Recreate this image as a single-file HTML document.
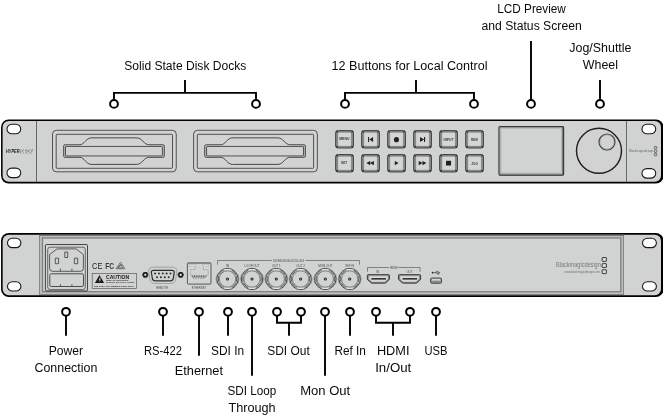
<!DOCTYPE html>
<html lang="en">
<head>
<meta charset="utf-8">
<title>HyperDeck Studio front and rear panel</title>
<style>
html,body{margin:0;padding:0;background:#fff;}
body{width:663px;height:416px;overflow:hidden;}
svg{display:block;font-family:"Liberation Sans",sans-serif;will-change:transform;}
.lbl text{fill:#0a0a0a;}
.ln{fill:none;stroke:#000;stroke-width:1.9;}
.cc{fill:#fff;stroke:#000;stroke-width:2;}
.hole{fill:#fff;stroke:#1a1a1a;stroke-width:1.1;}
.th{fill:none;stroke:#4a4a4c;stroke-width:0.7;}
.tiny{fill:#3a3a3c;font-weight:bold;}
.lite{fill:#4a4a4c;font-weight:normal;}
</style>
</head>
<body>
<svg width="663" height="416" viewBox="0 0 663 416">
<rect width="663" height="416" fill="#fff"/>

<g class="lbl">
<text x="185.3" y="70" font-size="12" text-anchor="middle" textLength="122" lengthAdjust="spacingAndGlyphs">Solid State Disk Docks</text>
<text x="409.5" y="70" font-size="12" text-anchor="middle" textLength="156" lengthAdjust="spacingAndGlyphs">12 Buttons for Local Control</text>
<text x="531.6" y="13" font-size="12" text-anchor="middle" textLength="68.5" lengthAdjust="spacingAndGlyphs">LCD Preview</text>
<text x="531.6" y="30" font-size="12" text-anchor="middle" textLength="100.2" lengthAdjust="spacingAndGlyphs">and Status Screen</text>
<text x="600.4" y="52" font-size="12" text-anchor="middle" textLength="62.2" lengthAdjust="spacingAndGlyphs">Jog/Shuttle</text>
<text x="600.4" y="69" font-size="12" text-anchor="middle" textLength="35.1" lengthAdjust="spacingAndGlyphs">Wheel</text>
</g>
<path class="ln" d="M114 100V92.85H256V100M185 80V92.85"/>
<path class="ln" d="M345 100V92.85H474V100M416 80V92.85"/>
<path class="ln" d="M531 40.9V100M600 80V100"/>
<circle cx="114" cy="103.9" r="3.9" class="cc"/>
<circle cx="256" cy="103.9" r="3.9" class="cc"/>
<circle cx="345" cy="103.9" r="3.9" class="cc"/>
<circle cx="474" cy="103.9" r="3.9" class="cc"/>
<circle cx="531" cy="103.9" r="3.9" class="cc"/>
<circle cx="600" cy="103.9" r="3.9" class="cc"/>
<rect x="1.05" y="119.55" width="662.5" height="63.85" rx="7.6" fill="#000"/>
<rect x="2.6" y="121" width="658.4" height="60.85" rx="6.1" fill="#d1d2d2"/>
<path d="M36.5 121V181.8M626.5 121V181.8" fill="none" stroke="#3a3a3c" stroke-width="0.7"/>
<rect class="hole" x="7" y="124.3" width="13.7" height="9.5" rx="4.8" ry="4.6"/>
<rect class="hole" x="7" y="168.1" width="13.7" height="9.5" rx="4.8" ry="4.6"/>
<rect class="hole" x="642" y="124.3" width="13.7" height="9.5" rx="4.8" ry="4.6"/>
<rect class="hole" x="642" y="168.6" width="13.7" height="9.5" rx="4.8" ry="4.6"/>
<path d="M20.9 149.1H33L31.9 153.3H19.8Z" fill="#8a8c8e"/>
<g class="tiny"><text x="6" y="153.3" font-size="6" font-style="italic" textLength="13.6" lengthAdjust="spacingAndGlyphs" style="fill:#1a1a1a">HYPER</text><text x="21" y="153" font-size="5.2" font-style="italic" textLength="11" lengthAdjust="spacingAndGlyphs" style="fill:#e6e7e8">DECK</text></g>
<g transform="translate(52.5 130)" fill="none" stroke="#231f20" stroke-width="0.72">
<rect x="0" y="0.3" width="123.75" height="41.5" rx="3.8"/>
<rect x="3.7" y="4.3" width="116.3" height="34" rx="0.8"/>
<path d="M12.6 14.75H27.4C31.5 14.75 33.8 7.85 38.8 7.85H84.4C89.4 7.85 91.7 14.75 96.3 14.75H110.4Q111.9 14.75 111.9 16.25V25.8Q111.9 27.3 110.4 27.3H96.3C91.7 27.3 89.4 34.4 84.4 34.4H38.8C33.8 34.4 31.5 27.3 27.4 27.3H12.6Q11.1 27.3 11.1 25.8V16.25Q11.1 14.75 12.6 14.75Z" stroke-width="0.78"/>
<path d="M12.05 16.6V25.8M110.95 16.6V25.8" stroke="#a7a9ac" stroke-width="1.3"/>
<rect x="13" y="16.45" width="96.9" height="9.5" rx="0.6" stroke-width="0.72"/>
</g>
<g transform="translate(193.6 130)" fill="none" stroke="#231f20" stroke-width="0.72">
<rect x="0" y="0.3" width="123.75" height="41.5" rx="3.8"/>
<rect x="3.7" y="4.3" width="116.3" height="34" rx="0.8"/>
<path d="M12.6 14.75H27.4C31.5 14.75 33.8 7.85 38.8 7.85H84.4C89.4 7.85 91.7 14.75 96.3 14.75H110.4Q111.9 14.75 111.9 16.25V25.8Q111.9 27.3 110.4 27.3H96.3C91.7 27.3 89.4 34.4 84.4 34.4H38.8C33.8 34.4 31.5 27.3 27.4 27.3H12.6Q11.1 27.3 11.1 25.8V16.25Q11.1 14.75 12.6 14.75Z" stroke-width="0.78"/>
<path d="M12.05 16.6V25.8M110.95 16.6V25.8" stroke="#a7a9ac" stroke-width="1.3"/>
<rect x="13" y="16.45" width="96.9" height="9.5" rx="0.6" stroke-width="0.72"/>
</g>
<g transform="translate(335.6 130.55)">
<rect x="0" y="0" width="17.9" height="17.5" rx="2.2" fill="#858687" stroke="#2e2d2e" stroke-width="0.8"/>
<path d="M0.6 0.6l1.7 1.5M17.3 0.6l-1.7 1.5M0.6 16.9l1.7 -1.5M17.3 16.9l-1.7 -1.5" stroke="#1a1a1a" stroke-width="1.1" fill="none"/>
<rect x="2.1" y="1.75" width="13.7" height="14" rx="0.4" fill="#d4d5d5" stroke="#6d6e70" stroke-width="0.5"/>
<text x="8.7" y="9.3" font-size="3" text-anchor="middle" fill="#3a3a3c" font-weight="bold" textLength="10.2" lengthAdjust="spacingAndGlyphs">MENU</text>
</g>
<g transform="translate(361.6 130.55)">
<rect x="0" y="0" width="17.9" height="17.5" rx="2.2" fill="#858687" stroke="#2e2d2e" stroke-width="0.8"/>
<path d="M0.6 0.6l1.7 1.5M17.3 0.6l-1.7 1.5M0.6 16.9l1.7 -1.5M17.3 16.9l-1.7 -1.5" stroke="#1a1a1a" stroke-width="1.1" fill="none"/>
<rect x="2.1" y="1.75" width="13.7" height="14" rx="0.4" fill="#d4d5d5" stroke="#6d6e70" stroke-width="0.5"/>
<path fill="#231f20" d="M6.45 6.4h1.05v5.1h-1.05zM11.5 6.4v5.1l-3.7-2.55z"/>
</g>
<g transform="translate(387.6 130.55)">
<rect x="0" y="0" width="17.9" height="17.5" rx="2.2" fill="#858687" stroke="#2e2d2e" stroke-width="0.8"/>
<path d="M0.6 0.6l1.7 1.5M17.3 0.6l-1.7 1.5M0.6 16.9l1.7 -1.5M17.3 16.9l-1.7 -1.5" stroke="#1a1a1a" stroke-width="1.1" fill="none"/>
<rect x="2.1" y="1.75" width="13.7" height="14" rx="0.4" fill="#d4d5d5" stroke="#6d6e70" stroke-width="0.5"/>
<circle cx="8.85" cy="9.1" r="2.55" fill="#231f20"/>
</g>
<g transform="translate(413.6 130.55)">
<rect x="0" y="0" width="17.9" height="17.5" rx="2.2" fill="#858687" stroke="#2e2d2e" stroke-width="0.8"/>
<path d="M0.6 0.6l1.7 1.5M17.3 0.6l-1.7 1.5M0.6 16.9l1.7 -1.5M17.3 16.9l-1.7 -1.5" stroke="#1a1a1a" stroke-width="1.1" fill="none"/>
<rect x="2.1" y="1.75" width="13.7" height="14" rx="0.4" fill="#d4d5d5" stroke="#6d6e70" stroke-width="0.5"/>
<path fill="#231f20" d="M10.4 6.4h1.1v5.1h-1.1zM6.45 6.4v5.1l3.95-2.55z"/>
</g>
<g transform="translate(439.6 130.55)">
<rect x="0" y="0" width="17.9" height="17.5" rx="2.2" fill="#858687" stroke="#2e2d2e" stroke-width="0.8"/>
<path d="M0.6 0.6l1.7 1.5M17.3 0.6l-1.7 1.5M0.6 16.9l1.7 -1.5M17.3 16.9l-1.7 -1.5" stroke="#1a1a1a" stroke-width="1.1" fill="none"/>
<rect x="2.1" y="1.75" width="13.7" height="14" rx="0.4" fill="#d4d5d5" stroke="#6d6e70" stroke-width="0.5"/>
<text x="8.9" y="10.3" font-size="3" text-anchor="middle" fill="#3a3a3c" font-weight="bold" textLength="10" lengthAdjust="spacingAndGlyphs">INPUT</text>
</g>
<g transform="translate(465.6 130.55)">
<rect x="0" y="0" width="17.9" height="17.5" rx="2.2" fill="#858687" stroke="#2e2d2e" stroke-width="0.8"/>
<path d="M0.6 0.6l1.7 1.5M17.3 0.6l-1.7 1.5M0.6 16.9l1.7 -1.5M17.3 16.9l-1.7 -1.5" stroke="#1a1a1a" stroke-width="1.1" fill="none"/>
<rect x="2.1" y="1.75" width="13.7" height="14" rx="0.4" fill="#d4d5d5" stroke="#6d6e70" stroke-width="0.5"/>
<text x="8.9" y="10.3" font-size="3" text-anchor="middle" fill="#3a3a3c" font-weight="bold" textLength="6.8" lengthAdjust="spacingAndGlyphs">REM</text>
</g>
<g transform="translate(335.6 154.5)">
<rect x="0" y="0" width="17.9" height="17.5" rx="2.2" fill="#858687" stroke="#2e2d2e" stroke-width="0.8"/>
<path d="M0.6 0.6l1.7 1.5M17.3 0.6l-1.7 1.5M0.6 16.9l1.7 -1.5M17.3 16.9l-1.7 -1.5" stroke="#1a1a1a" stroke-width="1.1" fill="none"/>
<rect x="2.1" y="1.75" width="13.7" height="14" rx="0.4" fill="#d4d5d5" stroke="#6d6e70" stroke-width="0.5"/>
<text x="8.5" y="9.9" font-size="3" text-anchor="middle" fill="#3a3a3c" font-weight="bold" textLength="6" lengthAdjust="spacingAndGlyphs">SET</text>
</g>
<g transform="translate(361.6 154.5)">
<rect x="0" y="0" width="17.9" height="17.5" rx="2.2" fill="#858687" stroke="#2e2d2e" stroke-width="0.8"/>
<path d="M0.6 0.6l1.7 1.5M17.3 0.6l-1.7 1.5M0.6 16.9l1.7 -1.5M17.3 16.9l-1.7 -1.5" stroke="#1a1a1a" stroke-width="1.1" fill="none"/>
<rect x="2.1" y="1.75" width="13.7" height="14" rx="0.4" fill="#d4d5d5" stroke="#6d6e70" stroke-width="0.5"/>
<path fill="#231f20" d="M8.6 6.4v4.4l-3.9-2.2zM12.3 6.4v4.4l-3.9-2.2z"/>
</g>
<g transform="translate(387.6 154.5)">
<rect x="0" y="0" width="17.9" height="17.5" rx="2.2" fill="#858687" stroke="#2e2d2e" stroke-width="0.8"/>
<path d="M0.6 0.6l1.7 1.5M17.3 0.6l-1.7 1.5M0.6 16.9l1.7 -1.5M17.3 16.9l-1.7 -1.5" stroke="#1a1a1a" stroke-width="1.1" fill="none"/>
<rect x="2.1" y="1.75" width="13.7" height="14" rx="0.4" fill="#d4d5d5" stroke="#6d6e70" stroke-width="0.5"/>
<path fill="#231f20" d="M7.2 6.4v4.4l3.8-2.2z"/>
</g>
<g transform="translate(413.6 154.5)">
<rect x="0" y="0" width="17.9" height="17.5" rx="2.2" fill="#858687" stroke="#2e2d2e" stroke-width="0.8"/>
<path d="M0.6 0.6l1.7 1.5M17.3 0.6l-1.7 1.5M0.6 16.9l1.7 -1.5M17.3 16.9l-1.7 -1.5" stroke="#1a1a1a" stroke-width="1.1" fill="none"/>
<rect x="2.1" y="1.75" width="13.7" height="14" rx="0.4" fill="#d4d5d5" stroke="#6d6e70" stroke-width="0.5"/>
<path fill="#231f20" d="M5.1 6.4v4.4l3.9-2.2zM8.9 6.4v4.4l3.9-2.2z"/>
</g>
<g transform="translate(439.6 154.5)">
<rect x="0" y="0" width="17.9" height="17.5" rx="2.2" fill="#858687" stroke="#2e2d2e" stroke-width="0.8"/>
<path d="M0.6 0.6l1.7 1.5M17.3 0.6l-1.7 1.5M0.6 16.9l1.7 -1.5M17.3 16.9l-1.7 -1.5" stroke="#1a1a1a" stroke-width="1.1" fill="none"/>
<rect x="2.1" y="1.75" width="13.7" height="14" rx="0.4" fill="#d4d5d5" stroke="#6d6e70" stroke-width="0.5"/>
<rect x="6.45" y="6.3" width="5" height="4.7" fill="#231f20"/>
</g>
<g transform="translate(465.6 154.5)">
<rect x="0" y="0" width="17.9" height="17.5" rx="2.2" fill="#858687" stroke="#2e2d2e" stroke-width="0.8"/>
<path d="M0.6 0.6l1.7 1.5M17.3 0.6l-1.7 1.5M0.6 16.9l1.7 -1.5M17.3 16.9l-1.7 -1.5" stroke="#1a1a1a" stroke-width="1.1" fill="none"/>
<rect x="2.1" y="1.75" width="13.7" height="14" rx="0.4" fill="#d4d5d5" stroke="#6d6e70" stroke-width="0.5"/>
<text x="9" y="10.1" font-size="3" text-anchor="middle" fill="#3a3a3c" font-weight="bold" textLength="6.6" lengthAdjust="spacingAndGlyphs">JOG</text>
</g>
<rect x="499" y="126.5" width="64.6" height="48.6" rx="1" fill="#d1d2d2" stroke="#262626" stroke-width="1.1"/>
<rect x="499.9" y="127.3" width="62.7" height="46.8" rx="0.6" fill="none" stroke="#77787a" stroke-width="1.1"/>
<rect x="500.9" y="128.3" width="60.7" height="44.8" fill="none" stroke="#b3b5b6" stroke-width="0.9"/>
<circle cx="599" cy="150.8" r="22.5" fill="#d1d2d2" stroke="#231f20" stroke-width="1.45"/>
<circle cx="607" cy="142" r="8" fill="#d1d2d2" stroke="#3a3a3c" stroke-width="1.2"/>
<circle cx="607" cy="142" r="7.2" fill="none" stroke="#8a8c8e" stroke-width="0.6"/>
<text x="629" y="152" font-size="3.6" textLength="24.3" lengthAdjust="spacingAndGlyphs" fill="#6d6e70">Blackmagicdesign</text>
<rect x="654.3" y="146.4" width="2.5" height="2.5" rx="0.7" fill="none" stroke="#3a3a3c" stroke-width="0.65"/>
<rect x="654.3" y="149.85" width="2.5" height="2.5" rx="0.7" fill="none" stroke="#3a3a3c" stroke-width="0.65"/>
<rect x="654.3" y="153.3" width="2.5" height="2.5" rx="0.7" fill="none" stroke="#3a3a3c" stroke-width="0.65"/>
<rect x="1.05" y="232.9" width="662.5" height="64.15" rx="7.8" fill="#000"/>
<rect x="2.65" y="234.65" width="658.35" height="60.55" rx="6.1" fill="#d1d2d2"/>
<rect x="39.5" y="235.4" width="584" height="59.1" fill="#bcbdbe" stroke="#858687" stroke-width="1"/>
<path d="M39 235.2H624" stroke="#6e6f70" stroke-width="1" fill="none"/>
<rect x="42.5" y="238" width="578.3" height="53.7" fill="#d1d2d2" stroke="#7c7d7e" stroke-width="1.25"/>
<rect class="hole" x="7.5" y="238.3" width="13.4" height="9.3" rx="4.8" ry="4.6"/>
<rect class="hole" x="7.5" y="281.7" width="13.4" height="9.3" rx="4.8" ry="4.6"/>
<rect class="hole" x="642.5" y="238.3" width="13.9" height="9.3" rx="4.8" ry="4.6"/>
<rect class="hole" x="642.5" y="281.7" width="13.9" height="9.3" rx="4.8" ry="4.6"/>
<rect x="45.4" y="244.5" width="42.1" height="46.4" rx="1" fill="#d1d2d2" stroke="#231f20" stroke-width="0.8"/>
<rect x="47.7" y="247.2" width="37.6" height="42.4" rx="2.5" fill="none" stroke="#3a3a3c" stroke-width="0.7"/>
<path d="M57 248.9H76L83.4 254.6V268.3Q83.4 271.3 80.4 271.3H52.6Q49.6 271.3 49.6 268.3V254.6Z" fill="#d1d2d2" stroke="#3a3a3c" stroke-width="0.8"/>
<path class="th" d="M64.8 252h2.9v5.5h-2.9zM55.3 258.2h3.3v5.5h-3.3zM74.4 258.2h3.3v5.5h-3.3zM60.4 268.6v2.5M71.9 268.6v2.5M60.4 284.2v2.3M71.9 284.2v2.3" style="stroke:#3a3a3c;stroke-width:0.8"/>
<rect x="49.8" y="273.8" width="33.7" height="12.7" rx="1.6" fill="none" stroke="#4a4a4c" stroke-width="1"/>
<text x="92" y="268.9" font-size="9.6" textLength="10.4" lengthAdjust="spacingAndGlyphs" fill="#231f20">CE</text><text x="105.2" y="268.6" font-size="9.6" textLength="9" lengthAdjust="spacingAndGlyphs" fill="#3a3a3c" font-weight="bold">FC</text>
<path d="M120.5 262.2l4.4 6.5h-8.8zM120.5 264.3l2.4 3.6h-4.8zM117.5 267.6l4.6-3" fill="none" stroke="#3a3a3c" stroke-width="0.6"/>
<rect x="92.2" y="273.4" width="44.4" height="15.2" fill="none" stroke="#58595b" stroke-width="0.7"/>
<path d="M99.5 274.9l4.6 8.2h-9.2z" fill="#1a1a1a"/>
<path d="M99.9 277.6l-1.2 2.6h1.1l-0.8 2.2l2-2.9h-1.1l0.9-1.9z" fill="#d1d2d2"/>
<g class="tiny" style="fill:#231f20"><text x="106" y="278.8" font-size="5" textLength="23.2" lengthAdjust="spacingAndGlyphs" style="fill:#1a1a1a">CAUTION</text>
<text x="106" y="280.8" font-size="2" textLength="22.5" lengthAdjust="spacingAndGlyphs" style="fill:#1a1a1a">RISK OF ELECTRIC</text>
<text x="106" y="283" font-size="2" textLength="28" lengthAdjust="spacingAndGlyphs" style="fill:#1a1a1a">SHOCK DO NOT OPEN</text>
<text x="94" y="287" font-size="2.4" textLength="40" lengthAdjust="spacingAndGlyphs" style="fill:#1a1a1a">100-240V 1.6A 50/60Hz Fuse T2AL</text></g>
<path d="M153.5 267.2H172.1Q177.6 267.2 176.8 272L175.6 279.4Q174.9 283.5 170.9 283.5H154.7Q150.7 283.5 150 279.4L148.8 272Q148 267.2 153.5 267.2Z" fill="none" stroke="#808285" stroke-width="0.6"/>
<path d="M153.6 270.3H172Q174.6 270.3 174.2 272.6L173.2 278.6Q172.8 280.8 170.4 280.8H155.2Q152.8 280.8 152.4 278.6L151.4 272.6Q151 270.3 153.6 270.3Z" fill="#d1d2d2" stroke="#2e2d2e" stroke-width="1.2"/>
<circle cx="155.10" cy="273.4" r="1" fill="#2e2d2e"/>
<circle cx="158.95" cy="273.4" r="1" fill="#2e2d2e"/>
<circle cx="162.80" cy="273.4" r="1" fill="#2e2d2e"/>
<circle cx="166.65" cy="273.4" r="1" fill="#2e2d2e"/>
<circle cx="170.50" cy="273.4" r="1" fill="#2e2d2e"/>
<circle cx="157.00" cy="277.3" r="1" fill="#2e2d2e"/>
<circle cx="160.90" cy="277.3" r="1" fill="#2e2d2e"/>
<circle cx="164.80" cy="277.3" r="1" fill="#2e2d2e"/>
<circle cx="168.70" cy="277.3" r="1" fill="#2e2d2e"/>
<path transform="translate(145.3 274.8)" d="M3.3 0L1.65 2.86H-1.65L-3.3 0L-1.65 -2.86H1.65Z" fill="#2e2d2e"/><circle cx="145.3" cy="274.8" r="2.3" fill="#1a1a1a"/><circle cx="145.3" cy="274.8" r="1.15" fill="#e6e7e8"/>
<path transform="translate(180.7 274.8)" d="M3.3 0L1.65 2.86H-1.65L-3.3 0L-1.65 -2.86H1.65Z" fill="#2e2d2e"/><circle cx="180.7" cy="274.8" r="2.3" fill="#1a1a1a"/><circle cx="180.7" cy="274.8" r="1.15" fill="#e6e7e8"/>
<g class="lite"><text x="162.1" y="288.6" font-size="3" text-anchor="middle" textLength="11.8" lengthAdjust="spacingAndGlyphs">REMOTE</text>
<text x="198.9" y="288.6" font-size="3" text-anchor="middle" textLength="14.3" lengthAdjust="spacingAndGlyphs">ETHERNET</text></g>
<rect x="187.4" y="262.9" width="23.6" height="21.2" rx="1" fill="#d1d2d2" stroke="#58595b" stroke-width="1"/>
<path d="M187.6 263.2H210.8" stroke="#808285" stroke-width="1.2" fill="none"/>
<path d="M189.5 264.5h6.5v1.6h-6.5zM202.3 264.5h6.6v1.6h-6.6z" fill="#e6e7e8" stroke="#9a9c9e" stroke-width="0.4"/>
<path d="M194.2 266.5V268.8H189.6V275.8H191.2V278.2H207.4V275.8H208.9V268.8H204.2V266.5" fill="none" stroke="#f1f2f2" stroke-width="0.7"/>
<path d="M194.8 266.5V269.4H190.2V275.4H191.8V277.6H206.8V275.4H208.3V269.4H203.6V266.5" fill="none" stroke="#808285" stroke-width="0.5"/>
<path d="M192.3 276.2H206" stroke="#3a3a3c" stroke-width="1.3" stroke-dasharray="1.1 0.65" fill="none"/>
<path d="M193 278.3H205.2" stroke="#3a3a3c" stroke-width="0.6" stroke-dasharray="0.8 0.9" fill="none"/>
<path d="M217.5 264.6V260.5H271.8M305.3 260.5H359.5V264.6" fill="none" stroke="#4a4a4c" stroke-width="0.6"/>
<g class="lite"><text x="288.5" y="261.5" font-size="3" text-anchor="middle" textLength="31.3" lengthAdjust="spacingAndGlyphs">SD/HD/3G/6G/12G-SDI</text>
<text x="227.5" y="266.6" font-size="2.9" text-anchor="middle" textLength="3.2" lengthAdjust="spacingAndGlyphs">IN</text>
<text x="252" y="266.6" font-size="2.9" text-anchor="middle" textLength="15" lengthAdjust="spacingAndGlyphs">LOOP OUT</text>
<text x="276.3" y="266.6" font-size="2.9" text-anchor="middle" textLength="8.7" lengthAdjust="spacingAndGlyphs">OUT 1</text>
<text x="300.6" y="266.6" font-size="2.9" text-anchor="middle" textLength="8.7" lengthAdjust="spacingAndGlyphs">OUT 2</text>
<text x="325.3" y="266.6" font-size="2.9" text-anchor="middle" textLength="14.3" lengthAdjust="spacingAndGlyphs">MON OUT</text>
<text x="349.7" y="266.6" font-size="2.9" text-anchor="middle" textLength="8.8" lengthAdjust="spacingAndGlyphs">REF IN</text>
</g>
<g transform="translate(227.5 279)">
<path d="M-10.4 -4.6Q-12.7 0 -10.4 4.6M10.4 -4.6Q12.7 0 10.4 4.6" fill="none" stroke="#6d6e70" stroke-width="0.5"/>
<circle r="10.65" fill="#d1d2d2" stroke="#3a3a3c" stroke-width="0.9"/>
<circle r="9.6" fill="none" stroke="#9a9c9e" stroke-width="0.5"/>
<circle r="9.3" fill="none" stroke="#58595b" stroke-width="1.5" stroke-dasharray="0.7 0.6 0.7 0.6 0.7 0.6 0.7 0.6 0.7 8.71" stroke-dashoffset="-4.2"/>
<path d="M-3 -9.5H3M-3 9.5H3" fill="none" stroke="#e6e7e8" stroke-width="0.9"/>
<circle r="8.15" fill="none" stroke="#4a4a4c" stroke-width="0.6"/>
<path d="M-9 -2.8V2.8M9 -2.8V2.8" fill="none" stroke="#58595b" stroke-width="0.9"/>
<circle r="1.55" fill="#231f20"/><circle r="0.55" fill="#e6e7e8"/>
</g>
<g transform="translate(252 279)">
<path d="M-10.4 -4.6Q-12.7 0 -10.4 4.6M10.4 -4.6Q12.7 0 10.4 4.6" fill="none" stroke="#6d6e70" stroke-width="0.5"/>
<circle r="10.65" fill="#d1d2d2" stroke="#3a3a3c" stroke-width="0.9"/>
<circle r="9.6" fill="none" stroke="#9a9c9e" stroke-width="0.5"/>
<circle r="9.3" fill="none" stroke="#58595b" stroke-width="1.5" stroke-dasharray="0.7 0.6 0.7 0.6 0.7 0.6 0.7 0.6 0.7 8.71" stroke-dashoffset="-4.2"/>
<path d="M-3 -9.5H3M-3 9.5H3" fill="none" stroke="#e6e7e8" stroke-width="0.9"/>
<circle r="8.15" fill="none" stroke="#4a4a4c" stroke-width="0.6"/>
<path d="M-9 -2.8V2.8M9 -2.8V2.8" fill="none" stroke="#58595b" stroke-width="0.9"/>
<circle r="1.55" fill="#231f20"/><circle r="0.55" fill="#e6e7e8"/>
</g>
<g transform="translate(276.3 279)">
<path d="M-10.4 -4.6Q-12.7 0 -10.4 4.6M10.4 -4.6Q12.7 0 10.4 4.6" fill="none" stroke="#6d6e70" stroke-width="0.5"/>
<circle r="10.65" fill="#d1d2d2" stroke="#3a3a3c" stroke-width="0.9"/>
<circle r="9.6" fill="none" stroke="#9a9c9e" stroke-width="0.5"/>
<circle r="9.3" fill="none" stroke="#58595b" stroke-width="1.5" stroke-dasharray="0.7 0.6 0.7 0.6 0.7 0.6 0.7 0.6 0.7 8.71" stroke-dashoffset="-4.2"/>
<path d="M-3 -9.5H3M-3 9.5H3" fill="none" stroke="#e6e7e8" stroke-width="0.9"/>
<circle r="8.15" fill="none" stroke="#4a4a4c" stroke-width="0.6"/>
<path d="M-9 -2.8V2.8M9 -2.8V2.8" fill="none" stroke="#58595b" stroke-width="0.9"/>
<circle r="1.55" fill="#231f20"/><circle r="0.55" fill="#e6e7e8"/>
</g>
<g transform="translate(300.6 279)">
<path d="M-10.4 -4.6Q-12.7 0 -10.4 4.6M10.4 -4.6Q12.7 0 10.4 4.6" fill="none" stroke="#6d6e70" stroke-width="0.5"/>
<circle r="10.65" fill="#d1d2d2" stroke="#3a3a3c" stroke-width="0.9"/>
<circle r="9.6" fill="none" stroke="#9a9c9e" stroke-width="0.5"/>
<circle r="9.3" fill="none" stroke="#58595b" stroke-width="1.5" stroke-dasharray="0.7 0.6 0.7 0.6 0.7 0.6 0.7 0.6 0.7 8.71" stroke-dashoffset="-4.2"/>
<path d="M-3 -9.5H3M-3 9.5H3" fill="none" stroke="#e6e7e8" stroke-width="0.9"/>
<circle r="8.15" fill="none" stroke="#4a4a4c" stroke-width="0.6"/>
<path d="M-9 -2.8V2.8M9 -2.8V2.8" fill="none" stroke="#58595b" stroke-width="0.9"/>
<circle r="1.55" fill="#231f20"/><circle r="0.55" fill="#e6e7e8"/>
</g>
<g transform="translate(325.3 279)">
<path d="M-10.4 -4.6Q-12.7 0 -10.4 4.6M10.4 -4.6Q12.7 0 10.4 4.6" fill="none" stroke="#6d6e70" stroke-width="0.5"/>
<circle r="10.65" fill="#d1d2d2" stroke="#3a3a3c" stroke-width="0.9"/>
<circle r="9.6" fill="none" stroke="#9a9c9e" stroke-width="0.5"/>
<circle r="9.3" fill="none" stroke="#58595b" stroke-width="1.5" stroke-dasharray="0.7 0.6 0.7 0.6 0.7 0.6 0.7 0.6 0.7 8.71" stroke-dashoffset="-4.2"/>
<path d="M-3 -9.5H3M-3 9.5H3" fill="none" stroke="#e6e7e8" stroke-width="0.9"/>
<circle r="8.15" fill="none" stroke="#4a4a4c" stroke-width="0.6"/>
<path d="M-9 -2.8V2.8M9 -2.8V2.8" fill="none" stroke="#58595b" stroke-width="0.9"/>
<circle r="1.55" fill="#231f20"/><circle r="0.55" fill="#e6e7e8"/>
</g>
<g transform="translate(349.7 279)">
<path d="M-10.4 -4.6Q-12.7 0 -10.4 4.6M10.4 -4.6Q12.7 0 10.4 4.6" fill="none" stroke="#6d6e70" stroke-width="0.5"/>
<circle r="10.65" fill="#d1d2d2" stroke="#3a3a3c" stroke-width="0.9"/>
<circle r="9.6" fill="none" stroke="#9a9c9e" stroke-width="0.5"/>
<circle r="9.3" fill="none" stroke="#58595b" stroke-width="1.5" stroke-dasharray="0.7 0.6 0.7 0.6 0.7 0.6 0.7 0.6 0.7 8.71" stroke-dashoffset="-4.2"/>
<path d="M-3 -9.5H3M-3 9.5H3" fill="none" stroke="#e6e7e8" stroke-width="0.9"/>
<circle r="8.15" fill="none" stroke="#4a4a4c" stroke-width="0.6"/>
<path d="M-9 -2.8V2.8M9 -2.8V2.8" fill="none" stroke="#58595b" stroke-width="0.9"/>
<circle r="1.55" fill="#231f20"/><circle r="0.55" fill="#e6e7e8"/>
</g>
<path d="M367.5 271.7V267.5H389M398.5 267.5H420.1V271.7" fill="none" stroke="#4a4a4c" stroke-width="0.6"/>
<g class="lite"><text x="393.8" y="268.6" font-size="2.9" text-anchor="middle" textLength="7.7" lengthAdjust="spacingAndGlyphs">HDMI</text>
<text x="377.6" y="273.1" font-size="2.9" text-anchor="middle" textLength="2.8" lengthAdjust="spacingAndGlyphs">IN</text><text x="409.4" y="273.1" font-size="2.9" text-anchor="middle" textLength="6" lengthAdjust="spacingAndGlyphs">OUT</text></g>
<g transform="translate(367.35 274.65)"><path d="M0.8 0H21.3Q22.1 0 22.1 0.8V4.7L18.6 8Q18 8.5 17.2 8.5H4.9Q4.1 8.5 3.5 8L0 4.7V0.8Q0 0 0.8 0Z" fill="#8a8c8e" stroke="#2e2d2e" stroke-width="0.9"/><path d="M1.4 1.2H20.7V4.3L17.5 7.3H4.6L1.4 4.3Z" fill="#d8d9da" stroke="#6d6e70" stroke-width="0.3"/><path d="M4 4.2H18.6" stroke="#1a1a1a" stroke-width="1.4" fill="none"/></g>
<g transform="translate(398.5 274.65)"><path d="M0.8 0H21.3Q22.1 0 22.1 0.8V4.7L18.6 8Q18 8.5 17.2 8.5H4.9Q4.1 8.5 3.5 8L0 4.7V0.8Q0 0 0.8 0Z" fill="#8a8c8e" stroke="#2e2d2e" stroke-width="0.9"/><path d="M1.4 1.2H20.7V4.3L17.5 7.3H4.6L1.4 4.3Z" fill="#d8d9da" stroke="#6d6e70" stroke-width="0.3"/><path d="M4 4.2H18.6" stroke="#1a1a1a" stroke-width="1.4" fill="none"/></g>
<rect x="430.6" y="278" width="10.9" height="5.3" rx="1.7" fill="#a7a9ac" stroke="#4a4a4c" stroke-width="1.1"/>
<path d="M432 279.8H440.1" stroke="#e6e7e8" stroke-width="1" fill="none"/>
<path d="M432.6 281.9H439.5" stroke="#58595b" stroke-width="0.8" fill="none"/>
<path d="M432.6 272.7H439M435 272.7L436.4 271.4H437.6M436 272.7L437.2 274H438.3" stroke="#2e2d2e" stroke-width="0.55" fill="none"/><circle cx="432.6" cy="272.7" r="0.85" fill="#2e2d2e"/><path d="M438.8 271.9l1.5 0.8l-1.5 0.8z" fill="#2e2d2e"/><circle cx="438" cy="271.4" r="0.5" fill="#2e2d2e"/><rect x="438.2" y="273.5" width="1" height="1" fill="#2e2d2e"/>
<text x="556" y="267.2" font-size="7.2" textLength="44.8" lengthAdjust="spacingAndGlyphs" fill="#77787b">Blackmagicdesign</text>
<text x="564.6" y="273" font-size="3" textLength="35.2" lengthAdjust="spacingAndGlyphs" fill="#6d6e70">www.blackmagicdesign.com</text>
<rect x="602.1" y="257.55" width="4.3" height="3.8" rx="0.45" fill="#dcddde" stroke="#3a3a3c" stroke-width="1"/>
<rect x="602.1" y="263.65" width="4.3" height="3.8" rx="0.45" fill="#dcddde" stroke="#3a3a3c" stroke-width="1"/>
<rect x="602.1" y="269.75" width="4.3" height="3.8" rx="0.45" fill="#dcddde" stroke="#3a3a3c" stroke-width="1"/>
<path class="ln" d="M66 315V335.8M163 315V335.8M199 315V355.8M228 315V335.8M252 315V375.8M325 315V375.8M350 315V335.8M436 315V335.8"/>
<path class="ln" d="M277 315V322.8H301V315M289 322.8V335.8"/>
<path class="ln" d="M376 315V322.8H410V315M393 322.8V335.8"/>
<circle cx="66" cy="311.8" r="3.9" class="cc"/>
<circle cx="163" cy="311.8" r="3.9" class="cc"/>
<circle cx="199" cy="311.8" r="3.9" class="cc"/>
<circle cx="228" cy="311.8" r="3.9" class="cc"/>
<circle cx="252" cy="311.8" r="3.9" class="cc"/>
<circle cx="277" cy="311.8" r="3.9" class="cc"/>
<circle cx="301" cy="311.8" r="3.9" class="cc"/>
<circle cx="325" cy="311.8" r="3.9" class="cc"/>
<circle cx="350" cy="311.8" r="3.9" class="cc"/>
<circle cx="376" cy="311.8" r="3.9" class="cc"/>
<circle cx="410" cy="311.8" r="3.9" class="cc"/>
<circle cx="436" cy="311.8" r="3.9" class="cc"/>
<g class="lbl">
<text x="65.8" y="355" font-size="12" text-anchor="middle" textLength="34.3" lengthAdjust="spacingAndGlyphs">Power</text>
<text x="65.9" y="372" font-size="12" text-anchor="middle" textLength="62.9" lengthAdjust="spacingAndGlyphs">Connection</text>
<text x="163" y="355" font-size="12" text-anchor="middle" textLength="38" lengthAdjust="spacingAndGlyphs">RS-422</text>
<text x="198.9" y="375" font-size="12" text-anchor="middle" textLength="48.2" lengthAdjust="spacingAndGlyphs">Ethernet</text>
<text x="227.6" y="355" font-size="12" text-anchor="middle" textLength="33" lengthAdjust="spacingAndGlyphs">SDI In</text>
<text x="251.9" y="395" font-size="12" text-anchor="middle" textLength="48.8" lengthAdjust="spacingAndGlyphs">SDI Loop</text>
<text x="252" y="412" font-size="12" text-anchor="middle" textLength="47.2" lengthAdjust="spacingAndGlyphs">Through</text>
<text x="288.5" y="355" font-size="12" text-anchor="middle" textLength="42.5" lengthAdjust="spacingAndGlyphs">SDI Out</text>
<text x="325.2" y="395" font-size="12" text-anchor="middle" textLength="50" lengthAdjust="spacingAndGlyphs">Mon Out</text>
<text x="350.2" y="355" font-size="12" text-anchor="middle" textLength="31.5" lengthAdjust="spacingAndGlyphs">Ref In</text>
<text x="393.2" y="355" font-size="12" text-anchor="middle" textLength="32.5" lengthAdjust="spacingAndGlyphs">HDMI</text>
<text x="393.2" y="372" font-size="12" text-anchor="middle" textLength="36" lengthAdjust="spacingAndGlyphs">In/Out</text>
<text x="436" y="355" font-size="12" text-anchor="middle" textLength="23" lengthAdjust="spacingAndGlyphs">USB</text>
</g>
</svg>
</body>
</html>
